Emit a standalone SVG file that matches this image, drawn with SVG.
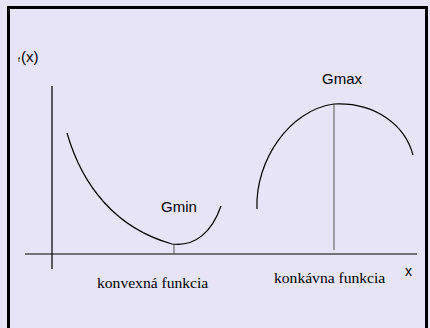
<svg xmlns="http://www.w3.org/2000/svg" width="430" height="328" viewBox="0 0 430 328">
<style>
.curve{fill:none;stroke:#000;stroke-width:1.2}
.axis{fill:none;stroke:#000;stroke-width:1.2}
.tick{fill:none;stroke:#555;stroke-width:1}
.sans{font-family:"Liberation Sans",Arial,sans-serif;fill:#000}
.serif{font-family:"Liberation Serif","Times New Roman",serif;fill:#000;font-size:15.6px}
</style>
<rect x="0" y="0" width="430" height="328" fill="#E6E4F6"/>
<rect x="8.5" y="7.5" width="418" height="330" fill="none" stroke="#000" stroke-width="3"/>
<g id="axes">
<line class="axis" x1="52" y1="86" x2="52" y2="269"/>
<line class="axis" x1="25" y1="254" x2="417" y2="254"/>
</g>
<g id="connectors">
<line class="tick" x1="174" y1="244" x2="174" y2="254"/>
<line class="tick" x1="334" y1="104" x2="334" y2="250"/>
</g>
<g id="convex">
<path class="curve" d="M67,133 C82,185 115,228 172,244 C195,247 212,232 221,206"/>
</g>
<g id="concave">
<path class="curve" d="M257,209 C255,160 290,110 334,104 C375,102 405,125 413,155"/>
</g>
<g id="labels">
<text class="sans" x="18" y="62" font-size="7">f</text>
<text class="sans" x="21" y="62" font-size="15">(x)</text>
<text class="sans" x="161" y="212" font-size="15">Gmin</text>
<text class="sans" x="322" y="84" font-size="15">Gmax</text>
<text class="sans" x="405" y="276" font-size="14">x</text>
<text class="serif" x="97" y="288">konvexná funkcia</text>
<text class="serif" x="274" y="283">konkávna funkcia</text>
</g>
</svg>
